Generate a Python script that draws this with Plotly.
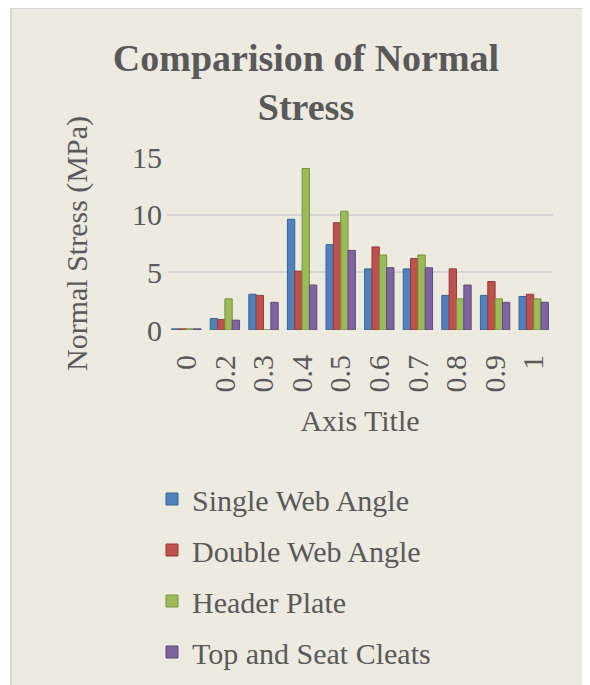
import plotly.graph_objects as go

categories = ["0", "0.2", "0.3", "0.4", "0.5", "0.6", "0.7", "0.8", "0.9", "1"]
single_web = [0.1, 1.0, 3.1, 9.6, 7.4, 5.3, 5.3, 3.0, 3.0, 2.9]
double_web = [0.1, 0.9, 3.0, 5.1, 9.3, 7.2, 6.2, 5.3, 4.2, 3.1]
header_plate = [0.1, 2.7, 0.0, 14.0, 10.3, 6.5, 6.5, 2.7, 2.7, 2.7]
top_seat = [0.1, 0.85, 2.4, 3.9, 6.9, 5.4, 5.4, 3.9, 2.4, 2.4]

series = [
    ("Single Web Angle", single_web, "#4F81BD", "#3A6494"),
    ("Double Web Angle", double_web, "#C0504D", "#953B39"),
    ("Header Plate", header_plate, "#9BBB59", "#76923C"),
    ("Top and Seat Cleats", top_seat, "#8064A2", "#5F4A7B"),
]

# page body has an 8px margin: figure is drawn offset by (8, 8)
OFF = 8
W, H = 590 - OFF, 685 - OFF
# plot area in screen pixels
SL, SR, ST, SB = 167, 553, 157, 330
L, T = SL - OFF, ST - OFF
R, B = W - (SR - OFF), H - (SB - OFF)
pw, ph = W - L - R, H - T - B

def px(sx):
    return (sx - OFF - L) / pw

def py(sy):
    return (H - B - (sy - OFF)) / ph

fig = go.Figure()
for i, (name, vals, col, edge) in enumerate(series):
    fig.add_trace(go.Bar(
        x=categories, y=vals, name=name, legendgroup=f"g{i}",
        marker=dict(color=col, line=dict(color=edge, width=1)),
    ))

font_fam = "Liberation Serif, Times New Roman, serif"
txt = "#595959"

fig.update_layout(
    width=W, height=H,
    margin=dict(l=L, r=R, t=T, b=B, autoexpand=False),
    paper_bgcolor="#EDEAE0",
    plot_bgcolor="rgba(0,0,0,0)",
    barmode="group", bargap=0.24, bargroupgap=0.0,
    font=dict(family=font_fam, color=txt, size=30),
    title=dict(
        text="<b>Comparision of Normal<br>Stress</b>",
        x=(306 - OFF) / W, xanchor="center",
        y=1 - (71 - OFF) / H, yanchor="top",
        font=dict(size=38, color=txt, family=font_fam),
    ),
    xaxis=dict(
        type="category", tickangle=-90, showgrid=False, zeroline=False,
        showline=False, ticks="", tickfont=dict(size=30), ticklabelstandoff=18,
        automargin=False,
        title=dict(text="Axis Title", font=dict(size=30), standoff=18),
    ),
    yaxis=dict(
        range=[0, 15], tickvals=[0, 5, 10, 15], showgrid=True,
        gridcolor="#D6D6D6", gridwidth=2, zeroline=False, showline=False,
        ticks="", tickfont=dict(size=30), ticklabelstandoff=4, automargin=False,
        title=dict(text="Normal Stress (MPa)", font=dict(size=30), standoff=35),
    ),
    legend=dict(
        orientation="v", x=px(152), xanchor="left", y=py(473), yanchor="top",
        font=dict(size=30, color=txt), tracegroupgap=9,
        bgcolor="rgba(0,0,0,0)", itemwidth=30,
    ),
    shapes=[
        # white strip and border along the left edge of the chart frame
        dict(type="rect", xref="paper", yref="paper", layer="below",
             x0=px(0), x1=px(11), y0=py(700), y1=py(0),
             fillcolor="white", line=dict(width=0)),
        dict(type="line", xref="paper", yref="paper", layer="below",
             x0=px(11), x1=px(11), y0=py(700), y1=py(8),
             line=dict(color="#D9D9D9", width=2)),
        dict(type="line", xref="paper", yref="paper", layer="below",
             x0=px(11), x1=px(600), y0=py(8), y1=py(8),
             line=dict(color="#D9D9D9", width=2)),
    ],
)

fig.write_html("out.html")
